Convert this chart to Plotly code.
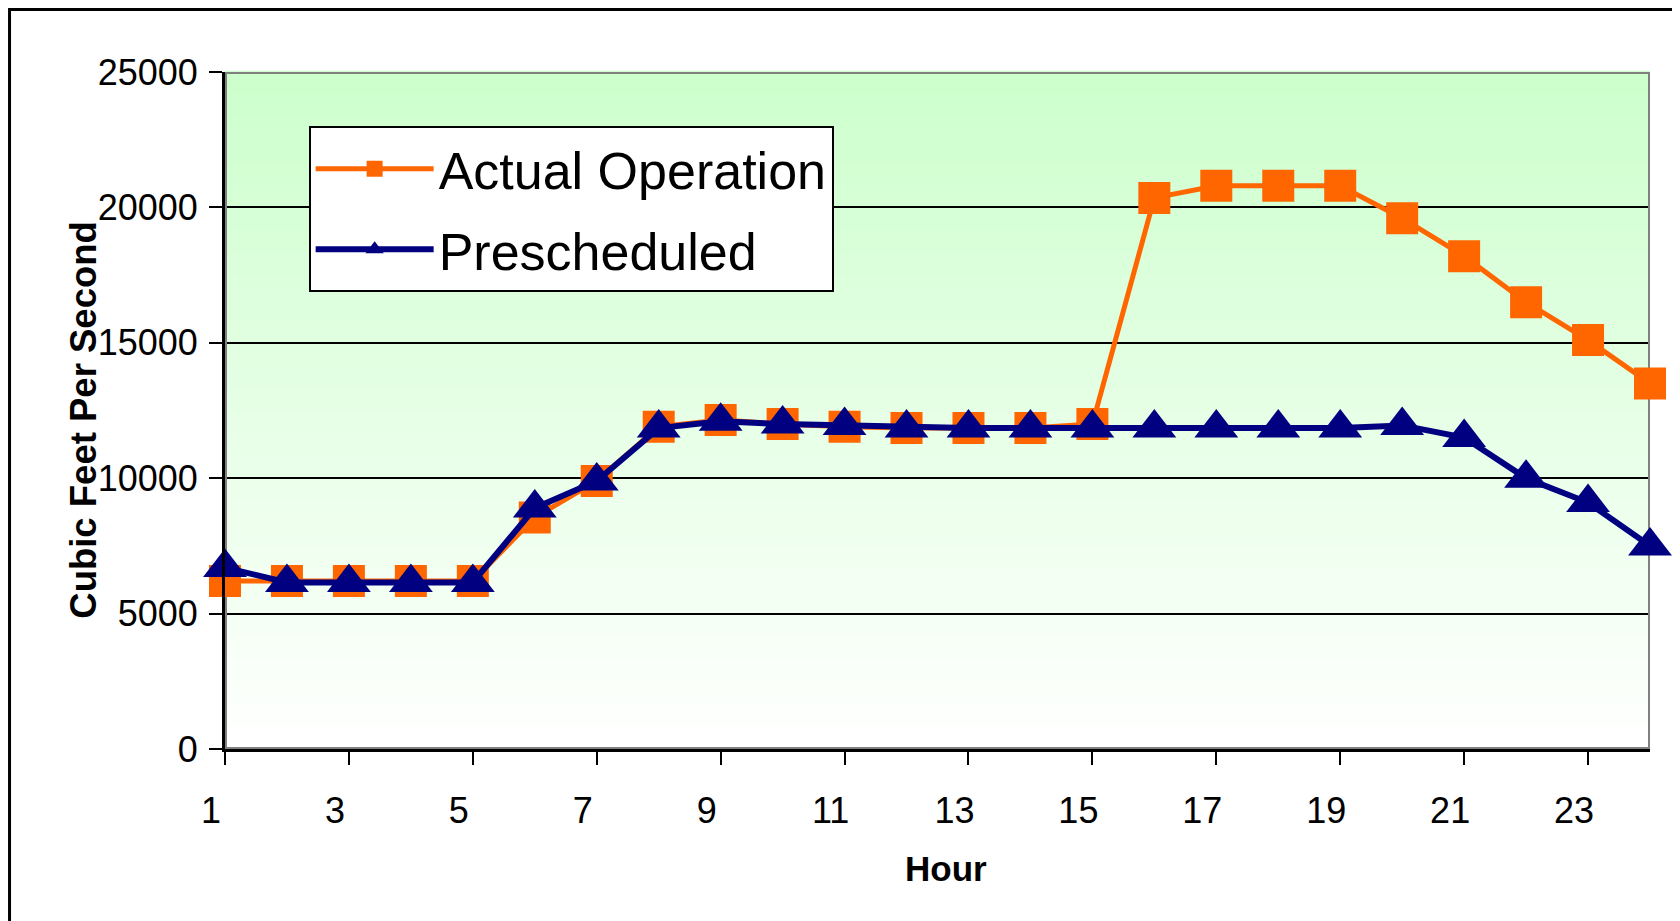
import plotly.graph_objects as go

hours = list(range(1, 25))
actual_operation = [6200, 6200, 6200, 6200, 6200, 8550, 9900, 11900, 12150, 12000, 11900, 11850,
                    11850, 11850, 12000, 20350, 20800, 20800, 20800, 19600, 18200, 16500, 15100, 13500]
prescheduled = [6700, 6150, 6150, 6150, 6150, 8900, 9900, 11850, 12100, 12000, 11950, 11850,
                11850, 11850, 11850, 11850, 11850, 11850, 11850, 11950, 11500, 10000, 9100, 7500]
x_tick_values = list(range(1, 24, 2))
y_tick_values = [0, 5000, 10000, 15000, 20000, 25000]
x_range = [1, 24]
y_range = [0, 25000]

FONT = "Liberation Sans, Arial, sans-serif"
ORANGE = "#FF6600"
NAVY = "#000080"

fig = go.Figure()
fig.add_trace(go.Scatter(
    x=hours, y=actual_operation, name="Actual Operation", mode="lines+markers",
    line=dict(color=ORANGE, width=5),
    marker=dict(symbol="square", size=32, color=ORANGE),
    cliponaxis=False, legendgroup="a",
))
fig.add_trace(go.Scatter(
    x=hours, y=prescheduled, name="Prescheduled", mode="lines+markers",
    line=dict(color=NAVY, width=6),
    marker=dict(symbol="triangle-up", size=38, color=NAVY),
    cliponaxis=False, legendgroup="b",
))

# gradient plot background (light green at top fading to white)
shapes = []
n = 60
for i in range(n):
    t = (i + 0.5) / n  # 0 at bottom, 1 at top
    r = round(255 - (255 - 204) * t)
    shapes.append(dict(type="rect", xref="x domain", yref="y domain",
                       x0=0, x1=1, y0=i / n, y1=(i + 1) / n + 0.002,
                       fillcolor=f"rgb({r},255,{r})", line=dict(width=0), layer="below"))
# plot area border (grey), above gridlines but below traces
shapes.append(dict(type="rect", xref="x", yref="y",
                   x0=x_range[0], x1=x_range[1], y0=y_range[0], y1=y_range[1],
                   line=dict(color="#808080", width=4), layer="between"))
# outer chart frame
shapes.append(dict(type="rect", xref="paper", yref="paper", x0=-0.1512, x1=1.2, y0=-0.6, y1=1.0923,
                   line=dict(color="black", width=3), layer="below"))

annotations = [
    dict(text="<b>Cubic Feet Per Second</b>", xref="paper", yref="paper", x=-0.0995, y=0.4867,
         xanchor="center", yanchor="middle", textangle=-90, showarrow=False,
         font=dict(family=FONT, size=36.5, color="black")),
    dict(text="<b>Hour</b>", xref="paper", yref="paper", x=0.506, y=-0.1758,
         xanchor="center", yanchor="middle", showarrow=False,
         font=dict(family=FONT, size=35, color="black")),
]

fig.update_layout(
    width=1672, height=913,
    margin=dict(l=217, r=30, t=64, b=172),
    paper_bgcolor="white", plot_bgcolor="rgba(0,0,0,0)",
    font=dict(family=FONT, color="black", size=36),
    shapes=shapes, annotations=annotations,
    showlegend=True,
    legend=dict(
        x=0.0587, y=0.9196, xanchor="left", yanchor="top",
        bgcolor="white", bordercolor="black", borderwidth=2,
        font=dict(family=FONT, size=52, color="black"),
        itemwidth=118, tracegroupgap=10, traceorder="grouped",
    ),
)
fig.update_xaxes(
    range=x_range, tickvals=x_tick_values, ticktext=[str(v) for v in x_tick_values],
    ticks="outside", ticklen=13, tickwidth=2, tickcolor="black",
    showline=True, linecolor="black", linewidth=3,
    showgrid=False, zeroline=False,
    tickfont=dict(family=FONT, size=36), ticklabelstandoff=15, ticklabelshift=-14,
)
fig.update_yaxes(
    range=y_range, tickvals=y_tick_values, ticktext=[str(v) for v in y_tick_values],
    ticks="outside", ticklen=13, tickwidth=2, tickcolor="black",
    showline=True, linecolor="black", linewidth=3,
    showgrid=True, gridcolor="black", gridwidth=2, zeroline=False,
    tickfont=dict(family=FONT, size=36), ticklabelstandoff=4,
)

fig.write_html("out.html")
